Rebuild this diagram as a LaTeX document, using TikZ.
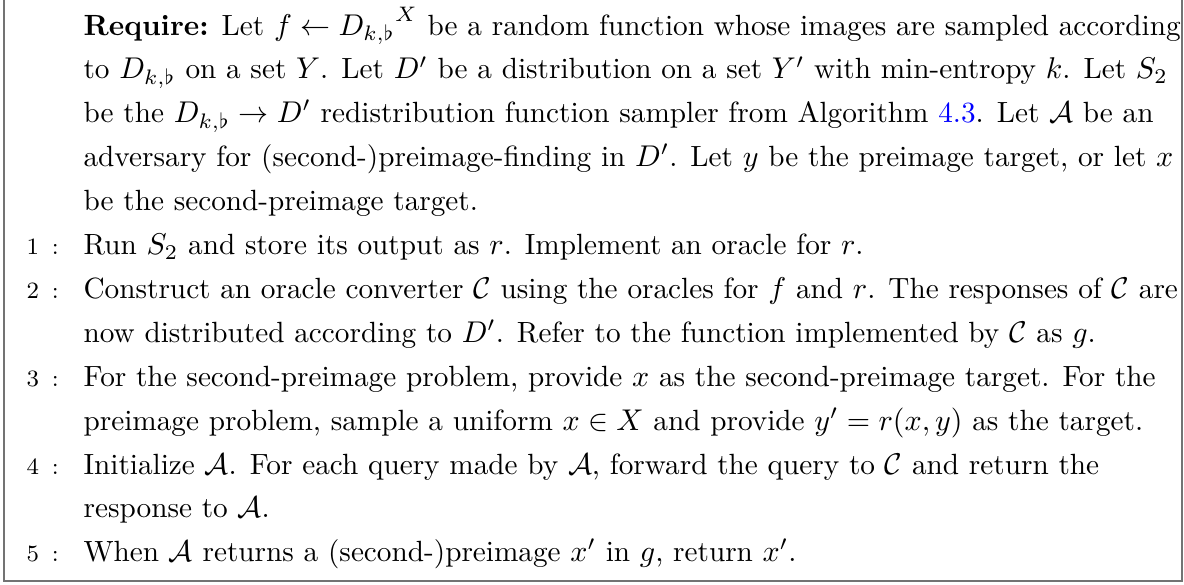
\documentclass[tikz,border=0pt]{standalone}
\usepackage{amsmath,amssymb}
\usepackage{xcolor}
\newcommand{\lnum}[1]{#1 \hspace{1.5pt}:}
\begin{document}
\begin{tikzpicture}[x=0.3333pt,y=-0.3333pt,
  txt/.style={anchor=base west,inner sep=0pt,font=\fontsize{9.75}{12}\selectfont},
  num/.style={anchor=base west,inner sep=0pt,font=\fontsize{7.8}{9}\selectfont},
  frame/.style={draw=black!55,line width=0.7pt}]
\useasboundingbox (0,0) rectangle (1184,584);
\draw[frame] (4,-20) -- (4,581) -- (1182,581) -- (1182,-20);
\node[txt] (r1) at (83,35) {\textbf{Require:} Let $f \leftarrow {D_{k,\flat}}^X$ be a random function whose images are sampled according};
\node[txt] (r2) at (83,78.9) {to $D_{k,\flat}$ on a set $Y$. Let $D'$ be a distribution on a set $Y'$ with min-entropy $k$. Let $S_2$};
\node[txt] (r3) at (83,122.8) {be the $D_{k,\flat} \to D'$ redistribution function sampler from Algorithm \textcolor{blue}{4.3}. Let $\mathcal{A}$ be an};
\node[txt] (r4) at (83,166.7) {adversary for (second-)preimage-finding in $D'$. Let $y$ be the preimage target, or let $x$};
\node[txt] (r5) at (83,210.6) {be the second-preimage target.};
\node[num] (n1) at (26,254.5) {\lnum{1}};
\node[txt] (a1) at (83,254.5) {Run $S_2$ and store its output as $r$. Implement an oracle for $r$.};
\node[num] (n2) at (26,298.4) {\lnum{2}};
\node[txt] (a2) at (83,298.4) {Construct an oracle converter $\mathcal{C}$ using the oracles for $f$ and $r$. The responses of $\mathcal{C}$ are};
\node[txt] (a2b) at (83,342.3) {now distributed according to $D'$. Refer to the function implemented by $\mathcal{C}$ as $g$.};
\node[num] (n3) at (26,386.2) {\lnum{3}};
\node[txt] (a3) at (83,386.2) {For the second-preimage problem, provide $x$ as the second-preimage target. For the};
\node[txt] (a3b) at (83,430.1) {preimage problem, sample a uniform $x \in X$ and provide $y' = r(x,y)$ as the target.};
\node[num] (n4) at (26,474) {\lnum{4}};
\node[txt] (a4) at (83,474) {Initialize $\mathcal{A}$. For each query made by $\mathcal{A}$, forward the query to $\mathcal{C}$ and return the};
\node[txt] (a4b) at (83,517.9) {response to $\mathcal{A}$.};
\node[num] (n5) at (26,561.8) {\lnum{5}};
\node[txt] (a5) at (83,561.8) {When $\mathcal{A}$ returns a (second-)preimage $x'$ in $g$, return $x'$.};
\end{tikzpicture}
\end{document}
